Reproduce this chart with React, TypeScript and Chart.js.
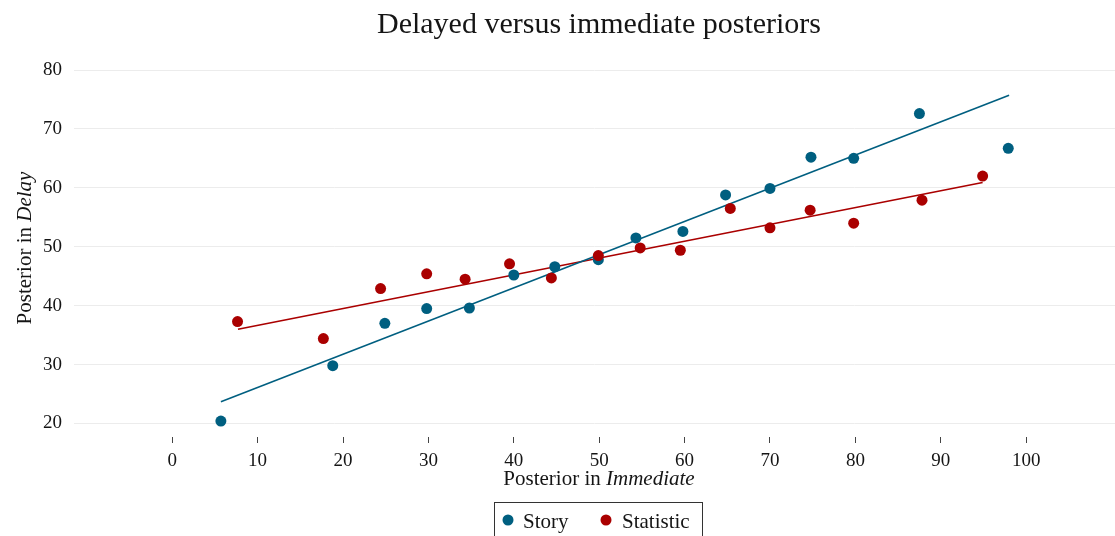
import React, { useEffect, useRef } from "react";
import { Chart, registerables } from "chart.js";

Chart.register(...registerables);

const storyX = [5.7, 18.8, 24.9, 29.8, 34.8, 40.0, 44.8, 49.9, 54.3, 59.8, 64.8, 70.0, 74.8, 79.8, 87.5, 97.9];
const storyY = [20.4, 29.8, 37.0, 39.5, 39.6, 45.2, 46.6, 47.8, 51.5, 52.6, 58.8, 59.9, 65.2, 65.0, 72.6, 66.7];
const statX = [7.65, 17.7, 24.4, 29.8, 34.3, 39.5, 44.4, 49.9, 54.8, 59.5, 65.35, 70.0, 74.7, 79.8, 87.8, 94.9];
const statY = [37.3, 34.4, 42.9, 45.4, 44.5, 47.1, 44.7, 48.5, 49.8, 49.4, 56.5, 53.2, 56.2, 54.0, 57.9, 62.0];

const storyFitX = [5.7, 98.0];
const storyFitY = [23.7, 75.7];
const statFitX = [7.7, 94.9];
const statFitY = [36.0, 60.9];

const xTicks = [0, 10, 20, 30, 40, 50, 60, 70, 80, 90, 100];
const yTicks = [20, 30, 40, 50, 60, 70, 80];

const titleText = "Delayed versus immediate posteriors";
const xTitle = ["Posterior in ", "Immediate"];
const yTitle = ["Posterior in ", "Delay"];
const legendLabels = ["Story", "Statistic"];

const BLUE = "#005f80";
const RED = "#aa0000";
const FONT = "'Liberation Serif', 'DejaVu Serif', serif";
const TEXT = "#151515";

const pts = (xs: number[], ys: number[]) => xs.map((x, i) => ({ x, y: ys[i] }));

const textPlugin = {
  id: "customText",
  afterDraw(chart: any) {
    const ctx = chart.ctx as CanvasRenderingContext2D;
    ctx.save();
    ctx.fillStyle = TEXT;
    // title
    ctx.font = `30px ${FONT}`;
    ctx.textAlign = "center";
    ctx.textBaseline = "alphabetic";
    ctx.fillText(titleText, 599, 33);

    const mixed = (parts: string[], size: number) => {
      ctx.font = `${size}px ${FONT}`;
      const w0 = ctx.measureText(parts[0]).width;
      ctx.font = `italic ${size}px ${FONT}`;
      const w1 = ctx.measureText(parts[1]).width;
      return { w0, w1, total: w0 + w1 };
    };

    // x title
    ctx.textAlign = "left";
    const AS = 21;
    let m = mixed(xTitle, AS);
    let sx = 599 - m.total / 2;
    ctx.font = `${AS}px ${FONT}`;
    ctx.fillText(xTitle[0], sx, 485);
    ctx.font = `italic ${AS}px ${FONT}`;
    ctx.fillText(xTitle[1], sx + m.w0, 485);

    // y title
    ctx.save();
    ctx.translate(31, 248);
    ctx.rotate(-Math.PI / 2);
    m = mixed(yTitle, AS);
    sx = -m.total / 2;
    ctx.font = `${AS}px ${FONT}`;
    ctx.fillText(yTitle[0], sx, 0);
    ctx.font = `italic ${AS}px ${FONT}`;
    ctx.fillText(yTitle[1], sx + m.w0, 0);
    ctx.restore();

    // legend
    ctx.strokeStyle = "#333";
    ctx.lineWidth = 1;
    ctx.strokeRect(494.5, 502.5, 208, 50);
    const items = [
      { label: legendLabels[0], color: BLUE, dx: 508, tx: 523 },
      { label: legendLabels[1], color: RED, dx: 606, tx: 622 },
    ];
    ctx.font = `21px ${FONT}`;
    for (const it of items) {
      ctx.fillStyle = it.color;
      ctx.beginPath();
      ctx.arc(it.dx, 520, 5.5, 0, Math.PI * 2);
      ctx.fill();
      ctx.fillStyle = TEXT;
      ctx.fillText(it.label, it.tx, 528);
    }
    ctx.restore();
  },
};

export default function App() {
  const ref = useRef<HTMLCanvasElement>(null);
  useEffect(() => {
    if (!ref.current) return;
    const chart = new Chart(ref.current, {
      type: "scatter",
      data: {
        datasets: [
          {
            label: "Story fit",
            data: pts(storyFitX, storyFitY),
            showLine: true,
            pointRadius: 0,
            borderColor: BLUE,
            borderWidth: 1.6,
            order: 2,
          },
          {
            label: "Statistic fit",
            data: pts(statFitX, statFitY),
            showLine: true,
            pointRadius: 0,
            borderColor: RED,
            borderWidth: 1.6,
            order: 2,
          },
          {
            label: legendLabels[0],
            data: pts(storyX, storyY),
            backgroundColor: BLUE,
            borderColor: BLUE,
            pointRadius: 5.5,
            pointBorderWidth: 0,
            order: 1,
          },
          {
            label: legendLabels[1],
            data: pts(statX, statY),
            backgroundColor: RED,
            borderColor: RED,
            pointRadius: 5.5,
            pointBorderWidth: 0,
            order: 0,
          },
        ],
      } as any,
      options: {
        animation: false,
        responsive: false,
        events: [],
        layout: { autoPadding: false, padding: { top: 70, left: 0, right: 0, bottom: 0 } },
        plugins: {
          legend: { display: false },
          title: { display: false },
          tooltip: { enabled: false },
        },
        scales: {
          x: {
            type: "linear",
            min: -11.5,
            max: 110.4,
            afterBuildTicks: (s: any) => {
              s.ticks = xTicks.map((v) => ({ value: v }));
            },
            afterFit: (s: any) => {
              s.height = 99;
              s.paddingLeft = 0;
              s.paddingRight = 0;
            },
            grid: { drawOnChartArea: false, drawTicks: true, tickLength: 6, color: "#444", lineWidth: 1 },
            border: { display: false },
            ticks: { font: { family: FONT, size: 19 }, color: TEXT, padding: 7, maxRotation: 0, autoSkip: false },
          },
          y: {
            type: "linear",
            min: 17.7,
            max: 80,
            afterBuildTicks: (s: any) => {
              s.ticks = yTicks.map((v) => ({ value: v }));
            },
            afterFit: (s: any) => {
              s.width = 74;
              s.paddingTop = 0;
              s.paddingBottom = 0;
            },
            grid: { color: "#ececec", drawTicks: false, lineWidth: 1 },
            border: { display: false },
            ticks: { font: { family: FONT, size: 19 }, color: TEXT, padding: 12, autoSkip: false },
          },
        },
      } as any,
      plugins: [textPlugin],
    });
    return () => chart.destroy();
  }, []);
  return (
    <div style={{ position: "absolute", left: 0, top: 0, width: 1115, height: 536, background: "#fff" }}>
      <canvas ref={ref} width={1115} height={536} style={{ display: "block" }} />
    </div>
  );
}
